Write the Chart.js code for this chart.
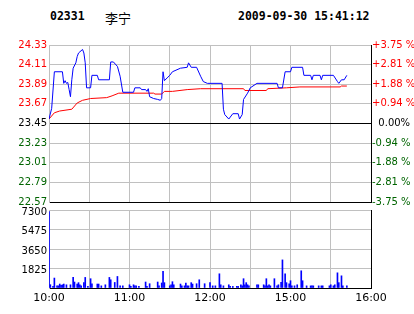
<!DOCTYPE html>
<html>
<head>
<meta charset="utf-8">
<script src="https://cdn.jsdelivr.net/npm/chart.js@4.4.0/dist/chart.umd.min.js"></script>
<style>
  body { margin: 0; background: #fff; width: 414px; height: 314px; position: relative; overflow: hidden; }
  .title { position: absolute; top: 8px; font: bold 11.5px "DejaVu Sans Mono", monospace; color: #000; line-height: 16px; }
  .name { font: 13px "Noto Sans CJK SC", sans-serif; font-weight: normal; }
  canvas { position: absolute; left: 0; }
</style>
</head>
<body>
<div class="title" style="left:50px">02331</div>
<div class="title name" style="left:105px">李宁</div>
<div class="title" style="left:238px">2009-09-30 15:41:12</div>
<canvas id="price" width="414" height="210" style="top:0"></canvas>
<canvas id="volume" width="414" height="114" style="top:200px"></canvas>
<script>
// price ticks (left) and percent change (right)
const baseClose = 23.45;
const priceTicks = [24.33, 24.11, 23.89, 23.67, 23.45, 23.23, 23.01, 22.79, 22.57];
const pctLabels = ["+3.75 %", "+2.81 %", "+1.88 %", "+0.94 %", "  0.00%", "-0.94 %", "-1.88 %", "-2.81 %", "-3.75 %"];
const volTicks = [0, 1825, 3650, 5475, 7300];
const timeLabels = { 0: "10:00", 60: "11:00", 120: "12:00", 180: "15:00", 240: "16:00" };

const priceTimes = ["10:00", "10:02", "10:04", "10:10", "10:11", "10:12", "10:13", "10:14", "10:15", "10:16",
  "10:17", "10:18", "10:20", "10:21", "10:22", "10:25", "10:26", "10:27", "10:28", "10:31",
  "10:32", "10:36", "10:37", "10:45", "10:46", "10:48", "10:51", "10:53", "10:55", "11:03",
  "11:04", "11:08", "11:09", "11:12", "11:13", "11:14", "11:15", "11:18", "11:21", "11:23",
  "11:24", "11:25", "11:26", "11:28", "11:30", "11:32", "11:38", "11:43", "11:44", "11:46",
  "11:50", "11:53", "11:55", "11:58", "12:09", "12:10", "12:11", "12:14", "12:17", "12:21",
  "12:22", "12:24", "12:25", "12:28", "12:30", "14:35", "14:50", "14:51", "14:54", "14:56",
  "15:00", "15:01", "15:09", "15:10", "15:15", "15:16", "15:17", "15:22", "15:23", "15:24",
  "15:32", "15:35", "15:36", "15:38", "15:40", "15:42"];
const prices = [23.50, 23.62, 24.03, 24.03, 23.90, 23.93, 23.90, 23.91, 23.83, 23.75,
  23.94, 24.07, 24.13, 24.20, 24.24, 24.28, 24.24, 24.13, 23.85, 23.85,
  23.99, 23.99, 23.94, 23.94, 24.14, 24.14, 24.09, 23.98, 23.80, 23.80,
  23.85, 23.85, 23.83, 23.83, 23.81, 23.84, 23.75, 23.73, 23.72, 23.71,
  23.73, 24.03, 23.93, 23.96, 23.99, 24.03, 24.07, 24.08, 24.13, 24.08,
  24.08, 23.98, 23.92, 23.90, 23.90, 23.61, 23.55, 23.50, 23.56, 23.56,
  23.50, 23.55, 23.72, 23.79, 23.85, 23.90, 23.90, 23.85, 23.85, 24.03,
  24.03, 24.08, 24.08, 23.99, 23.99, 23.94, 23.99, 23.99, 23.94, 23.99,
  23.99, 23.92, 23.90, 23.94, 23.94, 23.99];

const avgTimes = ["10:00", "10:04", "10:08", "10:17", "10:21", "10:25", "10:31", "10:43", "10:47", "10:52",
  "11:18", "11:19", "11:24", "11:26", "11:32", "11:43", "11:53", "12:25", "12:26", "14:42",
  "14:43", "14:57", "15:07", "15:37", "15:38", "15:42"];
const avgPrices = [23.50, 23.57, 23.59, 23.61, 23.68, 23.71, 23.73, 23.74, 23.76, 23.79,
  23.79, 23.78, 23.78, 23.81, 23.81, 23.83, 23.84, 23.84, 23.82, 23.82,
  23.84, 23.85, 23.86, 23.86, 23.87, 23.87];

const volTimes = ["10:00", "10:01", "10:03", "10:04", "10:06", "10:07", "10:08", "10:09", "10:10", "10:11",
  "10:13", "10:16", "10:18", "10:19", "10:21", "10:22", "10:23", "10:24", "10:26", "10:27",
  "10:29", "10:31", "10:32", "10:36", "10:37", "10:39", "10:42", "10:45", "10:46", "10:49",
  "10:51", "10:53", "10:55", "11:00", "11:01", "11:03", "11:04", "11:05", "11:07", "11:12",
  "11:13", "11:15", "11:21", "11:22", "11:24", "11:25", "11:26", "11:30", "11:31", "11:32",
  "11:33", "11:38", "11:39", "11:41", "11:42", "11:43", "11:44", "11:46", "11:47", "11:50",
  "11:52", "11:56", "12:00", "12:02", "12:04", "12:07", "12:08", "12:10", "12:14", "12:15",
  "12:17", "12:20", "12:21", "12:23", "12:24", "12:25", "12:26", "12:27", "12:28", "12:29",
  "14:35", "14:36", "14:40", "14:41", "14:42", "14:43", "14:44", "14:45", "14:48", "14:50",
  "14:51", "14:53", "14:54", "14:56", "14:57", "14:59", "15:00", "15:01", "15:03", "15:05",
  "15:08", "15:09", "15:12", "15:15", "15:16", "15:17", "15:21", "15:23", "15:24", "15:29",
  "15:30", "15:32", "15:33", "15:35", "15:36", "15:38", "15:39", "15:42"];
const volumes = [7150, 310, 150, 930, 200, 200, 370, 250, 300, 370,
  300, 300, 990, 560, 370, 500, 300, 200, 500, 990,
  150, 870, 400, 370, 370, 200, 300, 990, 770, 520,
  1080, 200, 200, 300, 150, 300, 200, 200, 150, 560,
  150, 400, 560, 200, 470, 1550, 500, 200, 300, 590,
  300, 370, 200, 200, 470, 200, 200, 500, 370, 400,
  770, 400, 500, 200, 200, 1330, 300, 200, 300, 150,
  150, 150, 150, 300, 200, 870, 300, 500, 300, 200,
  300, 300, 300, 200, 870, 200, 300, 200, 870, 200,
  300, 520, 2630, 1330, 500, 400, 680, 200, 200, 300,
  1610, 680, 200, 200, 200, 200, 200, 200, 200, 200,
  300, 200, 300, 1420, 500, 1140, 200, 200];

// trading minute since 10:00, lunch break 12:30-14:30 removed
function toMinute(t) {
  const [h, m] = t.split(":").map(Number);
  let v = h * 60 + m - 600;
  if (h >= 14) v -= 120;
  return v;
}

function points(times, values) {
  return times.map((t, i) => ({ x: toMinute(t), y: values[i] }));
}

const gray = "#c0c0c0";
const green = "#006400";
const xGrid = [0, 30, 60, 90, 120, 150, 180, 210, 240];

Chart.defaults.font.family = "DejaVu Sans";
Chart.defaults.font.size = 10;
Chart.defaults.color = "#000";

function tickColor(value) {
  if (value > baseClose + 0.001) return "#ff0000";
  if (value < baseClose - 0.001) return green;
  return "#000";
}

new Chart(document.getElementById("price"), {
  type: "line",
  data: {
    datasets: [
      {
        data: points(priceTimes, prices),
        borderColor: "#0000ff",
        borderWidth: 1,
        pointRadius: 0,
        tension: 0,
      },
      {
        data: points(avgTimes, avgPrices),
        borderColor: "#ff0000",
        borderWidth: 1,
        pointRadius: 0,
        tension: 0,
      },
    ],
  },
  options: {
    responsive: false,
    animation: false,
    layout: { padding: { top: 45, left: 0, right: 0, bottom: 0 } },
    plugins: { legend: { display: false }, tooltip: { enabled: false } },
    scales: {
      x: {
        type: "linear",
        min: 0,
        max: 240,
        afterBuildTicks: (s) => { s.ticks = xGrid.map((v) => ({ value: v })); },
        afterFit: (s) => { s.height = 7; },
        ticks: { display: false },
        grid: { drawTicks: false, color: (ctx) => (ctx.tick && ctx.tick.value === 240 ? "#000" : gray) },
        border: { color: "#000" },
      },
      y: {
        position: "left",
        min: 22.57,
        max: 24.33,
        afterBuildTicks: (s) => { s.ticks = priceTicks.slice().reverse().map((v) => ({ value: v })); },
        afterFit: (s) => { s.width = 49; },
        ticks: {
          padding: 2,
          callback: (v) => v.toFixed(2),
          color: (ctx) => tickColor(ctx.tick.value),
        },
        grid: {
          drawTicks: false,
          color: (ctx) => {
            const v = ctx.tick ? ctx.tick.value : 0;
            return v === baseClose || v === 22.57 ? "#000" : gray;
          },
        },
        border: { color: gray },
      },
      y2: {
        position: "right",
        min: 22.57,
        max: 24.33,
        afterBuildTicks: (s) => { s.ticks = priceTicks.slice().reverse().map((v) => ({ value: v })); },
        afterFit: (s) => { s.width = 43; },
        ticks: {
          padding: 1,
          callback: (v) => pctLabels[priceTicks.indexOf(v)],
          color: (ctx) => tickColor(ctx.tick.value),
        },
        grid: { drawOnChartArea: false, drawTicks: false },
        border: { color: "#000" },
      },
    },
  },
});

new Chart(document.getElementById("volume"), {
  type: "bar",
  data: {
    datasets: [
      {
        data: points(volTimes, volumes),
        backgroundColor: "#0000ff",
        borderWidth: 0,
        barThickness: 1,
      },
    ],
  },
  options: {
    responsive: false,
    animation: false,
    layout: { padding: { top: 10, left: 0, right: 43, bottom: 0 } },
    plugins: { legend: { display: false }, tooltip: { enabled: false } },
    scales: {
      x: {
        type: "linear",
        min: 0,
        max: 240,
        offset: false,
        afterBuildTicks: (s) => { s.ticks = xGrid.map((v) => ({ value: v })); },
        afterFit: (s) => { s.height = 26; },
        ticks: {
          padding: 4,
          maxRotation: 0,
          autoSkip: false,
          font: { size: 11 },
          callback: (v) => timeLabels[v] || "",
        },
        grid: {
          offset: false,
          drawTicks: false,
          color: (ctx) => (ctx.tick && ctx.tick.value === 240 ? "#000" : gray),
        },
        border: { color: "#000" },
      },
      y: {
        min: 0,
        max: 7300,
        afterBuildTicks: (s) => { s.ticks = volTicks.map((v) => ({ value: v })); },
        afterFit: (s) => { s.width = 49; },
        ticks: {
          padding: 2,
          labelOffset: 2,
          callback: (v) => (v === 0 ? "" : String(v)),
        },
        grid: { drawTicks: false, color: (ctx) => (ctx.tick && ctx.tick.value === 0 ? "#000" : gray) },
        border: { color: gray },
      },
    },
  },
});
</script>
</body>
</html>
